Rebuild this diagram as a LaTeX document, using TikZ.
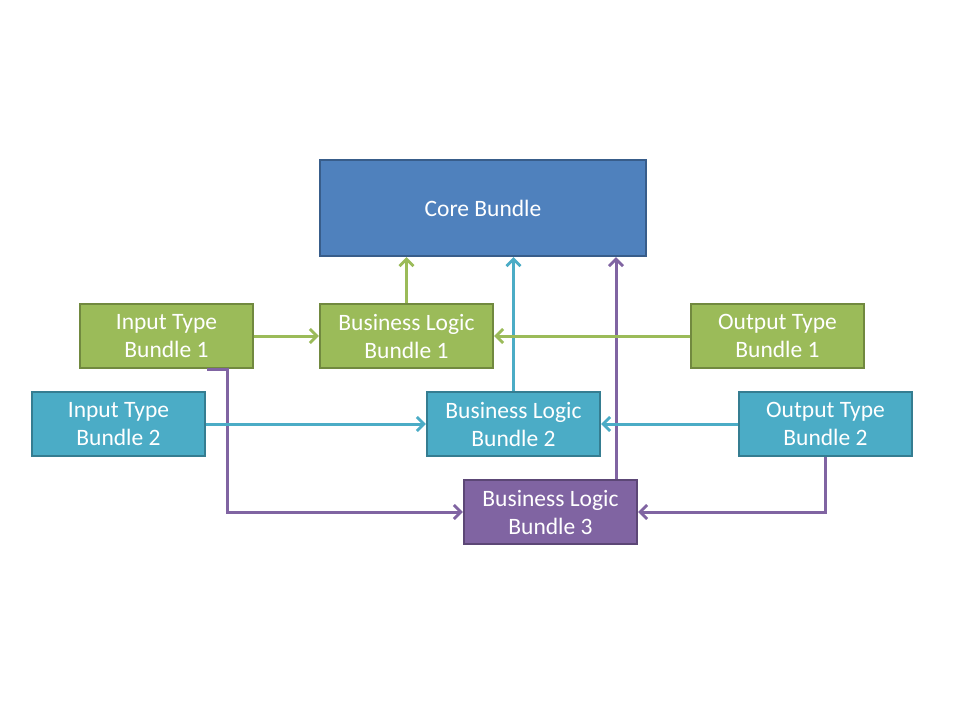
\documentclass[tikz,border=0pt]{standalone}
\usepackage{fontspec}
\setmainfont{Carlito}
\usetikzlibrary{arrows.meta}
\definecolor{gfill}{HTML}{9BBB59}\definecolor{gline}{HTML}{71893F}
\definecolor{tfill}{HTML}{4BACC6}\definecolor{tline}{HTML}{357D91}
\definecolor{bfill}{HTML}{4F81BD}\definecolor{bline}{HTML}{385D8A}
\definecolor{pfill}{HTML}{8064A2}\definecolor{pline}{HTML}{5C4776}
\begin{document}
\begin{tikzpicture}[x=1pt,y=-1pt,
  box/.style={draw, line width=2.2pt, minimum width=173pt, minimum height=64pt, inner sep=0pt,
    text=white, align=center, font=\fontsize{23.5}{28}\selectfont},
  gbox/.style={box, fill=gfill, draw=gline},
  tbox/.style={box, fill=tfill, draw=tline},
  pbox/.style={box, fill=pfill, draw=pline},
  conn/.style={line width=3pt, -{Straight Barb[length=7pt,width=14pt,line width=2.8pt]}},
  gconn/.style={conn, draw=gfill},
  tconn/.style={conn, draw=tfill},
  pconn/.style={conn, draw=pfill}]
\useasboundingbox (0,0) rectangle (960,720);
\fill[white] (0,0) rectangle (960,720);
\node[box, fill=bfill, draw=bline, minimum width=326pt, minimum height=96pt] (core) at (483,208) {Core Bundle};
\node[gbox] (in1) at (166.5,336) {Input Type\\Bundle 1};
\node[gbox] (bl1) at (406.5,336) {Business Logic\\Bundle 1};
\node[gbox] (out1) at (777.5,336) {Output Type\\Bundle 1};
\node[tbox] (in2) at (118.5,424) {Input Type\\Bundle 2};
\node[tbox] (bl2) at (513.5,424) {Business Logic\\Bundle 2};
\node[tbox] (out2) at (825.5,424) {Output Type\\Bundle 2};
\node[pbox] (bl3) at (550.5,512) {Business Logic\\Bundle 3};
\coordinate (c1) at (616,512);
% purple connectors
\draw[pconn] (in1.south -| 207,0) -- (in1.south -| 227,0) -- (bl3.west -| 227,0) -- (bl3.west);
\draw[pconn] (out2.south) -- (bl3.east -| out2.south) -- (bl3.east);
\draw[pconn] (bl3.north -| c1) -- (core.south -| c1);
% teal connectors
\draw[tconn] (in2.east) -- (bl2.west);
\draw[tconn] (out2.west) -- (bl2.east);
\draw[tconn] (bl2.north) -- (core.south -| bl2.north);
% green connectors
\draw[gconn] (in1.east) -- (bl1.west);
\draw[gconn] (out1.west) -- (bl1.east);
\draw[gconn] (bl1.north) -- (core.south -| bl1.north);
\end{tikzpicture}
\end{document}
